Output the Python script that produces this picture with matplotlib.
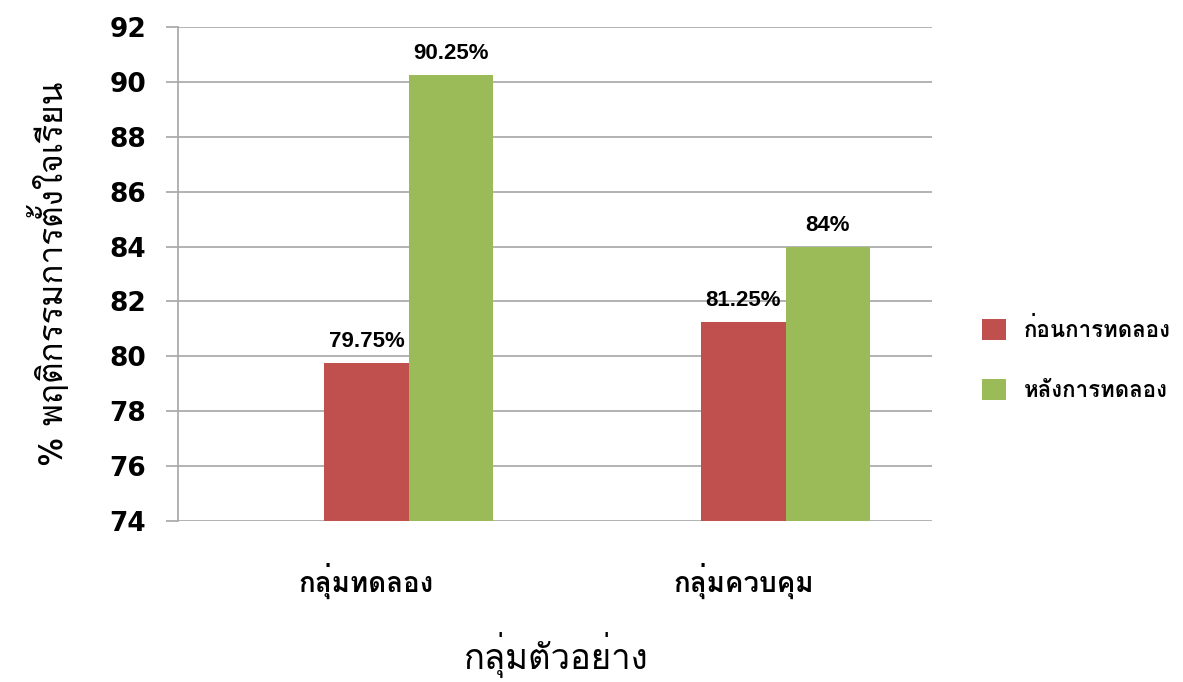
import matplotlib
matplotlib.use("Agg")
import matplotlib.pyplot as plt
from matplotlib.patches import Patch
import numpy as np

categories = ["กลุ่มทดลอง", "กลุ่มควบคุม"]
series_names = ["ก่อนการทดลอง", "หลังการทดลอง"]
before_values = [79.75, 81.25]
after_values = [90.25, 84.0]
before_labels = ["79.75%", "81.25%"]
after_labels = ["90.25%", "84%"]
y_ticks = [74, 76, 78, 80, 82, 84, 86, 88, 90, 92]

RED = "#C0504D"
GREEN = "#9BBB59"
GRID = "#A6A6A6"
THAI = ["Loma", "DejaVu Sans"]

fig = plt.figure(figsize=(11.83, 6.82), dpi=100)
ax = fig.add_axes([178 / 1183, 1 - 521 / 682, (932 - 178) / 1183, (521 - 27) / 682])

x = np.arange(len(categories))
w = 0.223
b1 = ax.bar(x, before_values, w, color=RED, zorder=3)
b2 = ax.bar(x + w, after_values, w, color=GREEN, zorder=3)

for bars, labels in ((b1, before_labels), (b2, after_labels)):
    for rect, lab in zip(bars, labels):
        ax.text(rect.get_x() + rect.get_width() / 2, rect.get_height() + 0.4, lab,
                ha="center", va="bottom", fontsize=16, fontweight="bold",
                family="Liberation Sans", zorder=4)

ax.set_xlim(-0.5, 1.5)
ax.set_ylim(74, 92)
ax.set_yticks(y_ticks)
ax.set_yticklabels([str(t) for t in y_ticks], fontsize=19, fontweight="bold",
                   family="DejaVu Sans")
ax.yaxis.grid(True, color=GRID, linewidth=1.2, zorder=0)
ax.set_axisbelow(True)
ax.tick_params(axis="y", length=9, width=1.2, color=GRID, pad=14)
ax.tick_params(axis="x", length=0, pad=30)
ax.set_xticks(x)
ax.set_xticklabels(categories, fontsize=20, fontweight="bold", family=THAI)

for s in ["top", "right", "bottom"]:
    ax.spines[s].set_visible(False)
ax.spines["left"].set_color(GRID)
ax.spines["left"].set_linewidth(1.2)

ax.set_ylabel("% พฤติกรรมการตั้งใจเรียน", fontsize=24, family=THAI, labelpad=28)
ax.set_xlabel("กลุ่มตัวอย่าง", fontsize=25, family=THAI, labelpad=24)

handles = [Patch(facecolor=RED), Patch(facecolor=GREEN)]
leg = fig.legend(handles, series_names, loc="center left",
                 bbox_to_anchor=(962 / 1183, 1 - 359 / 682), frameon=False,
                 prop={"family": THAI, "size": 16, "weight": "bold"},
                 handlelength=1.1, handleheight=1.1, labelspacing=1.7,
                 handletextpad=0.8)

fig.savefig("out.png", dpi=100)
